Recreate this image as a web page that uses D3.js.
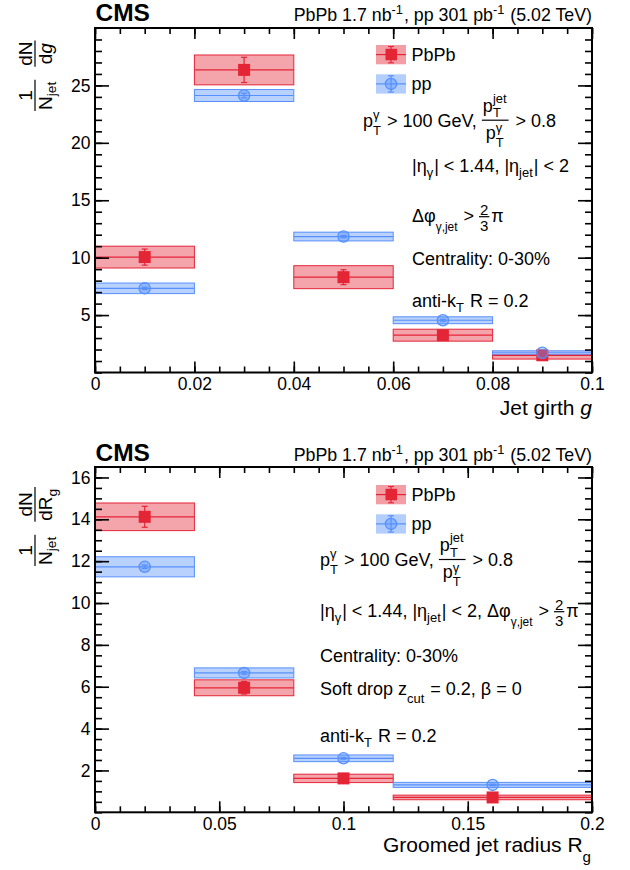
<!DOCTYPE html>
<html>
<head>
<meta charset="utf-8">
<script src="https://cdn.jsdelivr.net/npm/d3@7/dist/d3.min.js"></script>
<style>
  body { margin: 0; background: #fff; }
  text { font-family: "Liberation Sans", Arial, Helvetica, sans-serif; white-space: pre; }
</style>
</head>
<body>
<div id="chart"></div>
<script>
// ---- data: jet girth (upper panel) ----
const girthEdges = [0, 0.02, 0.04, 0.06, 0.08, 0.1]
const girthTicks = [0, 0.02, 0.04, 0.06, 0.08, 0.1]
const girthPbPb     = [10.05, 26.35, 8.30, 3.25, 1.50]
const girthPbPbStat = [0.70, 1.10, 0.65, 0.25, 0.15]
const girthPbPbSys  = [0.95, 1.30, 1.00, 0.52, 0.33]
const girthPp       = [7.33, 24.12, 11.84, 4.55, 1.72]
const girthPpStat   = [0.10, 0.20, 0.10, 0.08, 0.05]
const girthPpSys    = [0.46, 0.52, 0.38, 0.30, 0.17]
const girthYTicks   = [5, 10, 15, 20, 25]

// ---- data: groomed jet radius (lower panel) ----
const rgEdges = [0, 0.04, 0.08, 0.12, 0.2]
const rgTicks = [0, 0.05, 0.1, 0.15, 0.2]
const rgPbPb     = [14.12, 5.95, 1.62, 0.71]
const rgPbPbStat = [0.50, 0.30, 0.12, 0.08]
const rgPbPbSys  = [0.66, 0.38, 0.20, 0.11]
const rgPp       = [11.73, 6.66, 2.58, 1.31]
const rgPpStat   = [0.08, 0.06, 0.04, 0.03]
const rgPpSys    = [0.48, 0.24, 0.16, 0.12]
const rgYTicks   = [2, 4, 6, 8, 10, 12, 14, 16]

const WIDTH = 630, HEIGHT = 870
const LEFT = 95, RIGHT = 592
const RED = "#e42536", BLUE = "#5790fc"
const RED_FILL = "#f39da5", BLUE_FILL = "#b3cdfd"
const NOTE_SIZE = 18

const svg = d3.select("#chart").append("svg")
    .attr("width", WIDTH)
    .attr("height", HEIGHT)

// small helper for ROOT-like latex: sub/superscripts and fractions
function rich(parent, x, y, items, fs, anchor) {
    const g = parent.append("g")
    let cx = 0
    const put = (t, px, py, size, style) => {
        const el = g.append("text").attr("x", px).attr("y", py)
            .attr("font-size", size).attr("fill", "#000").text(t)
        if (style) el.attr("font-style", style)
        return el.node().getComputedTextLength()
    }
    items.forEach(it => {
        if (typeof it === "string") cx += put(it, cx, 0, fs)
        else if (it.it) cx += put(it.it, cx, 0, fs, "italic")
        else if (it.space) cx += it.space
        else if (it.frac) {
            const f = it.fs || fs
            const num = rich(g, 0, 0, it.frac[0], f)
            const den = rich(g, 0, 0, it.frac[1], f)
            const w = Math.max(num.w, den.w) + 2
            num.g.attr("transform", `translate(${cx + (w - num.w) / 2},${-it.bar - it.num})`)
            den.g.attr("transform", `translate(${cx + (w - den.w) / 2},${-it.bar + it.den})`)
            g.append("line")
                .attr("x1", cx).attr("x2", cx + w)
                .attr("y1", -it.bar).attr("y2", -it.bar)
                .attr("stroke", "#000").attr("stroke-width", 1.2)
            cx += w + 2
        } else {
            let w = 0
            const s = it.size || 0.72
            if (it.sup) w = Math.max(w, put(it.sup, cx, -(it.hi || 0.42) * fs, s * fs))
            if (it.sub) w = Math.max(w, put(it.sub, cx, (it.lo || 0.3) * fs, s * fs))
            cx += w + 1
        }
    })
    const dx = anchor === "end" ? x - cx : anchor === "middle" ? x - cx / 2 : x
    g.attr("transform", `translate(${dx},${y})`)
    return {g: g, w: cx}
}

const pT = ["p", {sup: "γ", sub: "T", hi: 0.42, lo: 0.46}]
const pTfrac = {frac: [["p", {sup: "jet", sub: "T", hi: 0.5, lo: 0.32}],
                       ["p", {sup: "γ", sub: "T", hi: 0.35, lo: 0.46}]],
                bar: 6.5, num: 8.5, den: 18.5}
const dphi = ["Δφ", {sub: "γ,jet", lo: 0.5, size: 0.66}, " > ",
              {frac: [["2"], ["3"]], fs: 15, bar: 5, num: 2, den: 14}, "π"]

const panels = [
    {
        top: 28, bottom: 372.5,
        xDomain: [0, 0.1], yDomain: [0, 30],
        edges: girthEdges, xTicks: girthTicks, xMinorStep: 0.005,
        yTicks: girthYTicks, yMinorStep: 1,
        pbpb: [girthPbPb, girthPbPbStat, girthPbPbSys],
        pp: [girthPp, girthPpStat, girthPpSys],
        headY: 21, legendTop: 45,
        yTitle: {x: 35, y: 111, den2: ["d", {it: "g"}]},
        xTitle: {y: 415, items: ["Jet girth ", {it: "g"}]},
        notes: [
            {x: 363, y: 126.7, items: [...pT, " > 100 GeV, ", pTfrac, " > 0.8"]},
            {x: 412, y: 171.7, items: ["|η", {sub: "γ"}, "| < 1.44, |η", {sub: "jet"}, "| < 2"]},
            {x: 412, y: 221.7, items: dphi},
            {x: 412, y: 265, items: ["Centrality: 0-30%"]},
            {x: 412, y: 306.7, items: ["anti-k", {sub: "T"}, " R = 0.2"]}
        ]
    },
    {
        top: 467, bottom: 812.3,
        xDomain: [0, 0.2], yDomain: [0, 16.5],
        edges: rgEdges, xTicks: rgTicks, xMinorStep: 0.01,
        yTicks: rgYTicks, yMinorStep: 0.5,
        pbpb: [rgPbPb, rgPbPbStat, rgPbPbSys],
        pp: [rgPp, rgPpStat, rgPpSys],
        headY: 461, legendTop: 485,
        yTitle: {x: 35, y: 566, den2: ["dR", {sub: "g"}]},
        xTitle: {y: 851.7, items: ["Groomed jet radius R", {sub: "g", lo: 0.5}]},
        notes: [
            {x: 320, y: 566, items: [...pT, " > 100 GeV, ", pTfrac, " > 0.8"]},
            {x: 320, y: 616.7, items: ["|η", {sub: "γ"}, "| < 1.44, |η", {sub: "jet"}, "| < 2, ", ...dphi]},
            {x: 320, y: 661.7, items: ["Centrality: 0-30%"]},
            {x: 320, y: 695, items: ["Soft drop z", {sub: "cut", lo: 0.45}, " = 0.2, β = 0"]},
            {x: 320, y: 741.7, items: ["anti-k", {sub: "T"}, " R = 0.2"]}
        ]
    }
]

function drawAxes(p, x, y) {
    const g = svg.append("g")
    const fmt = d3.format("~g")
    const xMinor = d3.range(p.xDomain[0], p.xDomain[1] + 1e-9, p.xMinorStep)
    const yMinor = d3.range(p.yDomain[0], p.yDomain[1], p.yMinorStep)

    const axes = [
        [d3.axisBottom(x).tickValues(xMinor).tickSize(-6).tickFormat(""), `translate(0,${p.bottom})`],
        [d3.axisBottom(x).tickValues(p.xTicks).tickSize(-11).tickPadding(5.5).tickFormat(fmt), `translate(0,${p.bottom})`],
        [d3.axisTop(x).tickValues(xMinor).tickSize(-6).tickFormat(""), `translate(0,${p.top})`],
        [d3.axisTop(x).tickValues(p.xTicks).tickSize(-11).tickFormat(""), `translate(0,${p.top})`],
        [d3.axisLeft(y).tickValues(yMinor).tickSize(-7).tickFormat(""), `translate(${LEFT},0)`],
        [d3.axisLeft(y).tickValues(p.yTicks).tickSize(-14).tickPadding(4.5).tickFormat(fmt), `translate(${LEFT},0)`],
        [d3.axisRight(y).tickValues(yMinor).tickSize(-7).tickFormat(""), `translate(${RIGHT},0)`],
        [d3.axisRight(y).tickValues(p.yTicks).tickSize(-14).tickFormat(""), `translate(${RIGHT},0)`]
    ]
    axes.forEach(([ax, tr]) => {
        const a = g.append("g").attr("transform", tr).call(ax)
            .attr("font-size", 17.5)
        a.select(".domain").remove()
        a.selectAll(".tick line").attr("stroke", "#000").attr("stroke-width", 1.6)
        a.selectAll(".tick text").attr("fill", "#000")
    })

    g.append("rect")
        .attr("x", LEFT).attr("y", p.top)
        .attr("width", RIGHT - LEFT).attr("height", p.bottom - p.top)
        .attr("fill", "none").attr("stroke", "#000").attr("stroke-width", 2)
}

function drawSeries(p, x, y) {
    const g = svg.append("g")
    const bins = p.edges.slice(0, -1).map((lo, i) => ({lo: lo, hi: p.edges[i + 1], mid: (lo + p.edges[i + 1]) / 2}))
    const series = [
        {d: p.pbpb, color: RED, fill: RED_FILL, marker: "square"},
        {d: p.pp, color: BLUE, fill: BLUE_FILL, marker: "circle"}
    ]
    const rows = s => bins.map((b, i) => ({...b, v: s.d[0][i], stat: s.d[1][i], sys: s.d[2][i]}))

    // systematic boxes
    series.forEach(s => {
        g.append("g").selectAll("rect")
            .data(rows(s))
            .join("rect")
                .attr("x", d => x(d.lo))
                .attr("y", d => y(d.v + d.sys))
                .attr("width", d => x(d.hi) - x(d.lo))
                .attr("height", d => y(d.v - d.sys) - y(d.v + d.sys))
                .attr("fill", s.fill).attr("fill-opacity", 0.92)
                .attr("stroke", s.color).attr("stroke-width", 1)
    })
    // bin width lines and stat errors
    series.forEach(s => {
        const r = rows(s)
        const lg = g.append("g").attr("stroke", s.color).attr("stroke-width", 1.2)
        lg.selectAll(".h").data(r).join("line")
            .attr("x1", d => x(d.lo)).attr("x2", d => x(d.hi))
            .attr("y1", d => y(d.v)).attr("y2", d => y(d.v))
        lg.selectAll(".v").data(r).join("line")
            .attr("x1", d => x(d.mid)).attr("x2", d => x(d.mid))
            .attr("y1", d => y(d.v - d.stat)).attr("y2", d => y(d.v + d.stat))
        ;[-1, 1].forEach(k => {
            lg.selectAll(".c" + k).data(r).join("line")
                .attr("x1", d => x(d.mid) - 3).attr("x2", d => x(d.mid) + 3)
                .attr("y1", d => y(d.v + k * d.stat)).attr("y2", d => y(d.v + k * d.stat))
        })
    })
    // markers
    series.forEach(s => {
        const r = rows(s)
        if (s.marker === "square") {
            g.append("g").selectAll("rect").data(r).join("rect")
                .attr("x", d => x(d.mid) - 6).attr("y", d => y(d.v) - 6)
                .attr("width", 12).attr("height", 12)
                .attr("fill", s.color)
        } else {
            g.append("g").selectAll("circle").data(r).join("circle")
                .attr("cx", d => x(d.mid)).attr("cy", d => y(d.v)).attr("r", 5.6)
                .attr("fill", s.color).attr("fill-opacity", 0.4)
                .attr("stroke", s.color).attr("stroke-width", 1.3)
        }
    })
}

function drawLegend(p) {
    const entries = [
        {name: "PbPb", color: RED, fill: RED_FILL, marker: "square"},
        {name: "pp", color: BLUE, fill: BLUE_FILL, marker: "circle"}
    ]
    entries.forEach((e, i) => {
        const top = p.legendTop + i * 29.3
        const cy = top + 9.6
        const g = svg.append("g")
        g.append("rect").attr("x", 376).attr("y", top).attr("width", 30).attr("height", 19.3)
            .attr("fill", e.fill)
        const lg = g.append("g").attr("stroke", e.color).attr("stroke-width", 1.2)
        lg.append("line").attr("x1", 376).attr("x2", 406).attr("y1", cy).attr("y2", cy)
        lg.append("line").attr("x1", 391).attr("x2", 391).attr("y1", top + 1.5).attr("y2", top + 17.8)
        lg.append("line").attr("x1", 388).attr("x2", 394).attr("y1", top + 1.5).attr("y2", top + 1.5)
        lg.append("line").attr("x1", 388).attr("x2", 394).attr("y1", top + 17.8).attr("y2", top + 17.8)
        if (e.marker === "square") {
            g.append("rect").attr("x", 385.5).attr("y", cy - 5.8).attr("width", 11.5).attr("height", 11.5)
                .attr("fill", e.color)
        } else {
            g.append("circle").attr("cx", 391).attr("cy", cy).attr("r", 5.6)
                .attr("fill", e.color).attr("fill-opacity", 0.4)
                .attr("stroke", e.color).attr("stroke-width", 1.3)
        }
        g.append("text").attr("x", 411.5).attr("y", cy + 6.5)
            .attr("font-size", 18).attr("fill", "#000").text(e.name)
    })
}

function drawTexts(p) {
    svg.append("text").attr("x", 95.5).attr("y", p.headY)
        .attr("font-size", 24.5).attr("font-weight", "bold").attr("fill", "#000")
        .text("CMS")
    rich(svg, RIGHT, p.headY,
        ["PbPb 1.7 nb", {sup: "-1", hi: 0.4}, ", pp 301 pb", {sup: "-1", hi: 0.4}, " (5.02 TeV)"],
        17.8, "end")

    // rotated y title
    const yt = svg.append("g")
        .attr("transform", `translate(${p.yTitle.x},${p.yTitle.y}) rotate(-90)`)
    rich(yt, 0, 0, [
        {frac: [["1"], ["N", {sub: "jet", lo: 0.25}]], bar: 0, num: 3, den: 16.5},
        {space: 11},
        {frac: [["dN"], p.yTitle.den2], bar: 0, num: 3, den: 16.5}
    ], 19)

    rich(svg, RIGHT, p.xTitle.y, p.xTitle.items, 21, "end")

    p.notes.forEach(n => rich(svg, n.x, n.y, n.items, NOTE_SIZE))
}

panels.forEach(p => {
    const x = d3.scaleLinear().domain(p.xDomain).range([LEFT, RIGHT])
    const y = d3.scaleLinear().domain(p.yDomain).range([p.bottom, p.top])
    drawSeries(p, x, y)
    drawAxes(p, x, y)
    drawLegend(p)
    drawTexts(p)
})
</script>
</body>
</html>
